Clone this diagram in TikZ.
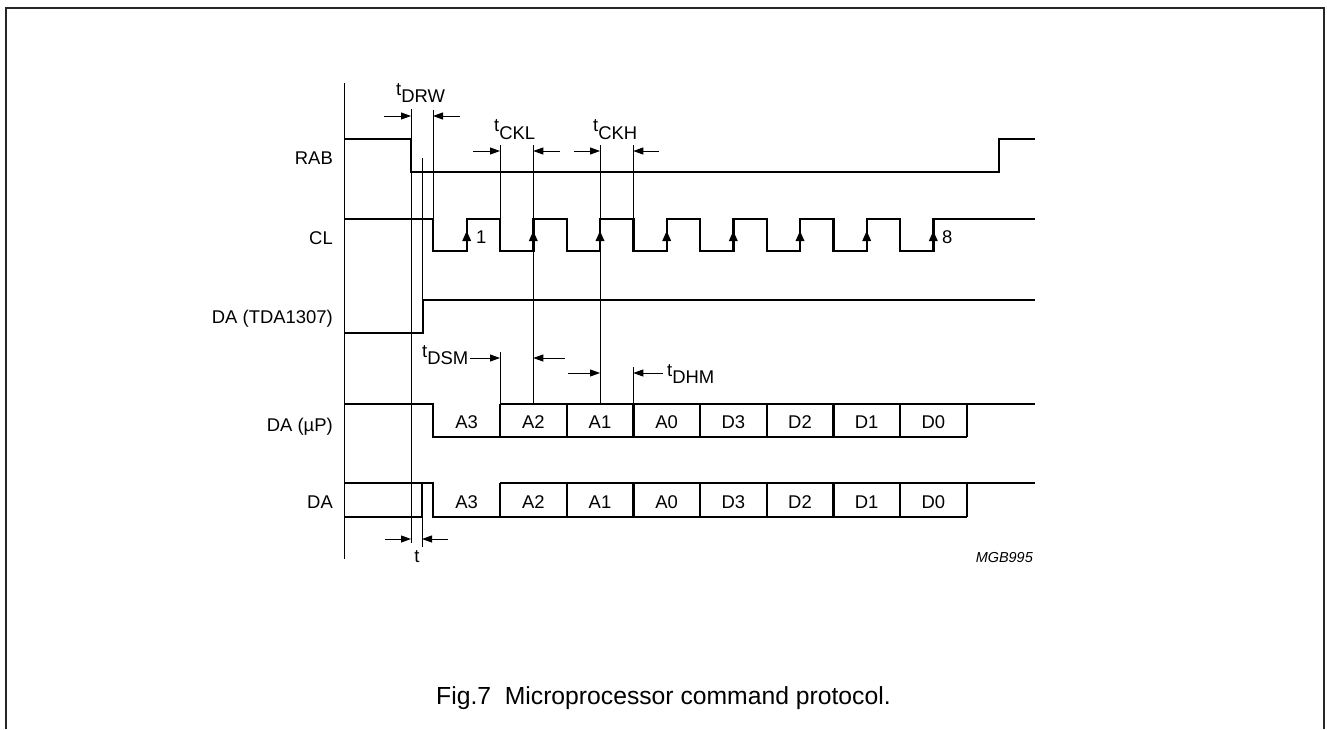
\documentclass[tikz,border=0pt]{standalone}
\usepackage{fontspec}
\setmainfont{Liberation Sans}
\usetikzlibrary{arrows.meta}
\newcommand\tsub[1]{t\raisebox{-7bp}{#1}}
\begin{document}
\begin{tikzpicture}[x=1bp,y=-1bp,
  sig/.style={line width=2.4bp, line join=miter},
  thinl/.style={line width=0.9bp},
  dim/.style={line width=0.9bp,-{Triangle[length=10bp,width=7bp]}},
  lbl/.style={font=\fontsize{18.5}{20}\selectfont, inner sep=0pt},
  capstyle/.style={font=\fontsize{24.8}{27}\selectfont, inner sep=0pt},
  tagstyle/.style={font=\fontsize{14.5}{16}\selectfont\itshape, inner sep=0pt}]
\useasboundingbox (0,0) rectangle (1327,729);
\draw[line width=2bp, black!85] (6,729) -- (6,8) -- (1324,8) -- (1324,729);
% axis
\draw[thinl] (344,83) -- (344,559);
% signal labels
\node[lbl, anchor=base east] (lrab) at (333,164) {RAB};
\node[lbl, anchor=base east] (lcl) at (333,244) {CL};
\node[lbl, anchor=base east] (ltda) at (333,323) {DA (TDA1307)};
\node[lbl, anchor=base east] (lup) at (333,431) {DA (µP)};
\node[lbl, anchor=base east] (lda) at (333,508) {DA};
% RAB
\draw[sig] (344,139) -- (411,139) -- (411,172) -- (999,172) -- (999,139) -- (1035,139);
% CL
\draw[sig] (344,219) -| (433,251) -| (466.7,219) -| (500,251) -| (533.3,219) -| (566.7,251)
  -| (600,219) -| (633.3,251) -| (666.7,219) -| (700,251) -| (733.3,219) -| (766.7,251)
  -| (800,219) -| (833.3,251) -| (866.7,219) -| (900,251) -| (933.3,219) -- (1035,219);
\foreach \x in {466.7,533.3,600,666.7,733.3,800,866.7,933.3}
  \fill (\x,231) -- (\x-4.5,241) -- (\x+4.5,241) -- cycle;
\node[lbl, anchor=base west] (one) at (476,243) {1};
\node[lbl, anchor=base west] (eight) at (942,243) {8};
% DA (TDA1307)
\draw[sig] (344,333) -- (423,333) -- (423,300) -- (1035,300);
% DA (uP)
\draw[sig] (344,404) -- (433,404) -- (433,437) -- (966.7,437);
\draw[sig] (500,404) -- (1035,404);
\foreach \x in {500,566.7,633.3,700,766.7,833.3,900,966.7}
  \draw[sig] (\x,404) -- (\x,437);
% DA
\draw[sig] (344,483) -- (433,483) -- (433,517) -- (966.7,517);
\draw[sig] (344,517) -- (422,517) -- (422,483);
\draw[sig] (500,483) -- (1035,483);
\foreach \x in {500,566.7,633.3,700,766.7,833.3,900,966.7}
  \draw[sig] (\x,483) -- (\x,517);
% data labels
\foreach \x/\t in {466.7/A3,533.3/A2,600/A1,666.7/A0,733.3/D3,800/D2,866.7/D1,933.3/D0}{
  \node[lbl, anchor=base] at (\x,428) {\t};
  \node[lbl, anchor=base] at (\x,508) {\t};
}
% thin timing lines
\draw[thinl] (411,109) -- (411,543);
\draw[thinl] (422,158) -- (422,300);
\draw[thinl] (422,517) -- (422,547);
\draw[thinl] (433,110) -- (433,219);
\draw[thinl] (500,145) -- (500,219);
\draw[thinl] (533.3,145) -- (533.3,404);
\draw[thinl] (600,145) -- (600,404);
\draw[thinl] (633.3,145) -- (633.3,219);
\draw[thinl] (500,352) -- (500,404);
\draw[thinl] (633.3,367) -- (633.3,404);
% dimension arrows
\coordinate (a1) at (384,116); \coordinate (a1e) at (411,116);
\coordinate (a2) at (460,116); \coordinate (a2e) at (433,116);
\draw[dim] (a1) -- (a1e); \draw[dim] (a2) -- (a2e);
\coordinate (b1) at (473,151); \coordinate (b1e) at (500,151);
\coordinate (b2) at (560,151); \coordinate (b2e) at (533.3,151);
\coordinate (b3) at (574,151); \coordinate (b3e) at (600,151);
\coordinate (b4) at (659,151); \coordinate (b4e) at (633.3,151);
\draw[dim] (b1) -- (b1e); \draw[dim] (b2) -- (b2e);
\draw[dim] (b3) -- (b3e); \draw[dim] (b4) -- (b4e);
\coordinate (c1) at (470,358); \coordinate (c1e) at (500,358);
\coordinate (c2) at (565,358); \coordinate (c2e) at (533.3,358);
\coordinate (c3) at (568,373); \coordinate (c3e) at (600,373);
\coordinate (c4) at (663,373); \coordinate (c4e) at (633.3,373);
\draw[dim] (c1) -- (c1e); \draw[dim] (c2) -- (c2e);
\draw[dim] (c3) -- (c3e); \draw[dim] (c4) -- (c4e);
\coordinate (d1) at (385,539); \coordinate (d1e) at (411,539);
\coordinate (d2) at (448,539); \coordinate (d2e) at (422,539);
\draw[dim] (d1) -- (d1e); \draw[dim] (d2) -- (d2e);
% timing labels
\node[lbl, anchor=base west] (tdrw) at (396,96) {\tsub{DRW}};
\node[lbl, anchor=base west] (tckl) at (494,132) {\tsub{CKL}};
\node[lbl, anchor=base west] (tckh) at (593,132) {\tsub{CKH}};
\node[lbl, anchor=base west] (tdsm) at (422,357) {\tsub{DSM}};
\node[lbl, anchor=base west] (tdhm) at (667,376) {\tsub{DHM}};
\node[lbl, anchor=base] (tt) at (417,562) {t};
% tag and caption
\node[tagstyle, anchor=base east] (mgb) at (1033,562) {MGB995};
\node[capstyle, anchor=base west] (caption) at (436,704) {Fig.7\ \ Microprocessor command protocol.};
\end{tikzpicture}
\end{document}
